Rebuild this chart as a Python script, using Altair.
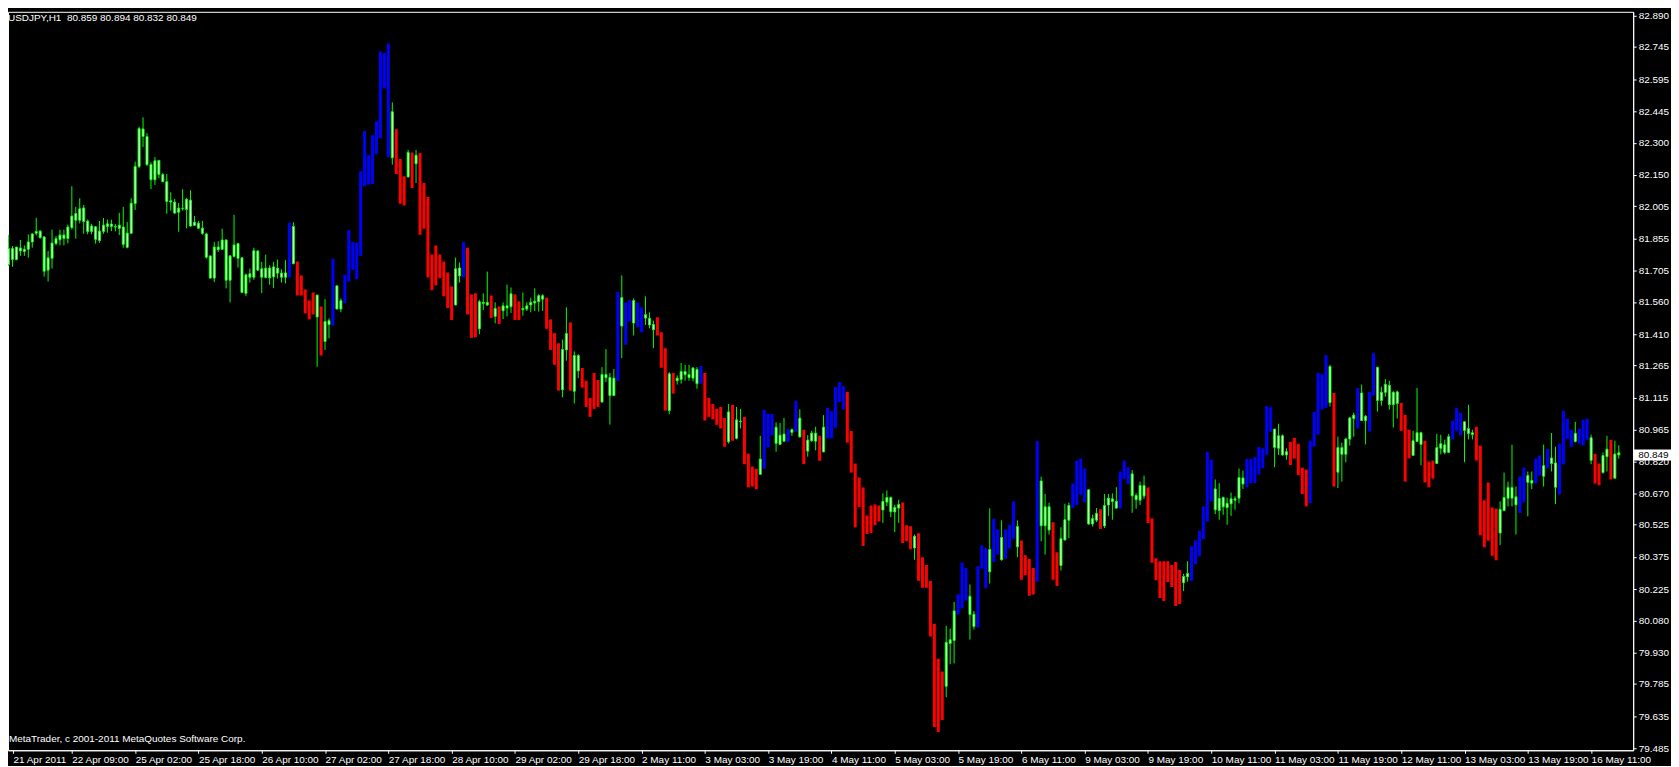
import json
import altair as alt
import pandas as pd

# ---------------- data ----------------
SYMBOL = "USDJPY,H1"
LAST_OHLC = ["80.859", "80.894", "80.832", "80.849"]
LAST_PRICE = 80.849
COPYRIGHT = "MetaTrader, c 2001-2011 MetaQuotes Software Corp."

# g = candle (lime), r = red bar, b = blue bar
KIND = list(
    "gggggggggg" "gggggggggg" "gggggggggg" "gggggggggg" "gggggggggg"
    "gggggggggg" "gggggggggg" "gbgrrrrrgr" "ggbggbbbbb" "bbbbbbbgrr"
    "rgrgrrrrrr" "rrrggbrrrg" "ggrgrgggrr" "ggggggrrrr" "ggrggrrrrr"
    "ggggbgbbgb" "bgggrrrgrg" "gggggbrrrr" "rrgrggrrrr" "gbbbgggbgb"
    "grgggrgbbb" "bbrrrrrrrr" "rgggggrrrg" "rrrrrrrggg" "bbbggbbbgb"
    "bgbbbgrrrr" "bgggrrgggb" "bbbgggrggg" "gbbbggggrr" "rrrrrrrggb"
    "bbbbbggggg" "gggbbbbbbb" "ggggrrrrrb" "bbbbgrgggg" "gbggbbgggg"
    "ggrrrgggrr" "rggggbbbgg" "grrrrrrggg" "ggbbggbbgb" "ggbbbbgbbb"
    "grrggrgg"
)

HIGH = [
    81.872, 81.820, 81.815, 81.848, 81.823, 81.874, 81.879, 81.951, 81.894, 81.866,
    81.797, 81.896, 81.866, 81.896, 81.896, 81.920, 82.098, 82.002, 82.042, 82.011,
    81.943, 81.923, 81.913, 81.936, 81.950, 81.943, 81.942, 81.922, 81.974, 82.002,
    81.931, 82.042, 82.212, 82.375, 82.418, 82.344, 82.209, 82.233, 82.218, 82.159,
    82.155, 82.070, 82.039, 82.020, 82.084, 82.044, 82.079, 81.959, 81.936, 81.937,
    81.882, 81.774, 81.839, 81.842, 81.900, 81.851, 81.778, 81.965, 81.835, 81.768,
    81.692, 81.715, 81.812, 81.800, 81.746, 81.780, 81.731, 81.746, 81.757, 81.712,
    81.754, 81.928, 81.931, 81.748, 81.683, 81.618, 81.567, 81.604, 81.593, 81.539,
    81.573, 81.484, 81.761, 81.635, 81.576, 81.686, 81.894, 81.839, 81.835, 82.167,
    82.354, 82.242, 82.335, 82.400, 82.724, 82.717, 82.761, 82.488, 82.363, 82.224,
    82.144, 82.267, 82.255, 82.267, 82.252, 82.113, 82.048, 81.780, 81.822, 81.780,
    81.748, 81.697, 81.632, 81.766, 81.743, 81.839, 81.812, 81.595, 81.600, 81.570,
    81.600, 81.701, 81.590, 81.558, 81.539, 81.558, 81.641, 81.627, 81.595, 81.563,
    81.604, 81.558, 81.580, 81.623, 81.596, 81.596, 81.580, 81.479, 81.415, 81.368,
    81.385, 81.535, 81.465, 81.330, 81.317, 81.253, 81.194, 81.114, 81.230, 81.197,
    81.257, 81.341, 81.230, 81.248, 81.607, 81.683, 81.558, 81.569, 81.576, 81.558,
    81.535, 81.586, 81.512, 81.473, 81.489, 81.419, 81.345, 81.234, 81.230, 81.219,
    81.276, 81.268, 81.268, 81.257, 81.257, 81.262, 81.230, 81.114, 81.086, 81.063,
    81.072, 81.021, 81.086, 81.082, 81.072, 81.063, 81.026, 80.855, 80.795, 80.785,
    80.938, 81.058, 81.040, 81.040, 81.000, 80.998, 81.021, 80.969, 80.972, 81.100,
    81.061, 80.966, 80.941, 80.961, 80.980, 80.938, 81.034, 81.068, 81.052, 81.165,
    81.188, 81.169, 81.142, 80.961, 80.809, 80.744, 80.698, 80.568, 80.614, 80.619,
    80.614, 80.670, 80.684, 80.656, 80.617, 80.641, 80.628, 80.522, 80.517, 80.479,
    80.485, 80.374, 80.337, 80.263, 80.064, 79.902, 79.842, 80.055, 80.042, 80.166,
    80.201, 80.349, 80.323, 80.247, 80.124, 80.332, 80.429, 80.415, 80.601, 80.553,
    80.503, 80.545, 80.503, 80.525, 80.633, 80.545, 80.451, 80.383, 80.365, 80.323,
    80.913, 80.748, 80.668, 80.627, 80.536, 80.397, 80.513, 80.622, 80.628, 80.716,
    80.823, 80.832, 80.786, 80.687, 80.571, 80.602, 80.596, 80.667, 80.667, 80.670,
    80.699, 80.772, 80.823, 80.792, 80.779, 80.671, 80.725, 80.753, 80.698, 80.554,
    80.369, 80.355, 80.355, 80.355, 80.337, 80.351, 80.314, 80.297, 80.355, 80.425,
    80.452, 80.497, 80.610, 80.864, 80.827, 80.735, 80.718, 80.656, 80.651, 80.674,
    80.656, 80.786, 80.776, 80.830, 80.830, 80.838, 80.886, 80.880, 81.077, 81.071,
    80.969, 80.994, 80.944, 80.880, 80.910, 80.929, 80.901, 80.790, 80.781, 80.915,
    81.049, 81.230, 81.225, 81.313, 81.267, 81.137, 80.934, 80.906, 80.929, 81.026,
    81.045, 81.160, 81.176, 81.034, 81.142, 81.322, 81.260, 81.166, 81.202, 81.194,
    81.145, 81.148, 81.091, 81.035, 80.966, 80.961, 81.160, 80.957, 80.915, 80.818,
    80.823, 80.947, 80.943, 80.920, 80.947, 81.008, 81.068, 81.045, 81.003, 81.082,
    80.966, 80.980, 80.892, 80.638, 80.721, 80.605, 80.600, 80.633, 80.767, 80.725,
    80.897, 80.702, 80.749, 80.790, 80.772, 80.772, 80.832, 80.846, 80.897, 80.878,
    80.951, 80.887, 80.901, 81.054, 81.017, 80.966, 81.003, 80.971, 81.012, 81.017,
    80.943, 80.855, 80.809, 80.860, 80.938, 80.920, 80.915, 80.894,
]

LOW = [
    81.728, 81.724, 81.754, 81.774, 81.774, 81.766, 81.812, 81.869, 81.854, 81.678,
    81.655, 81.715, 81.823, 81.823, 81.823, 81.832, 81.897, 81.854, 81.925, 81.877,
    81.874, 81.874, 81.831, 81.835, 81.877, 81.882, 81.889, 81.888, 81.871, 81.812,
    81.809, 81.879, 81.988, 82.182, 82.280, 82.193, 82.085, 82.104, 82.135, 82.116,
    81.970, 81.985, 81.970, 81.886, 81.985, 81.902, 81.909, 81.913, 81.900, 81.872,
    81.761, 81.669, 81.652, 81.792, 81.802, 81.623, 81.558, 81.766, 81.720, 81.601,
    81.587, 81.650, 81.663, 81.704, 81.601, 81.669, 81.640, 81.624, 81.669, 81.650,
    81.647, 81.674, 81.735, 81.590, 81.590, 81.507, 81.479, 81.502, 81.259, 81.311,
    81.337, 81.391, 81.450, 81.527, 81.512, 81.555, 81.655, 81.709, 81.666, 81.774,
    82.098, 82.105, 82.108, 82.247, 82.321, 82.552, 82.233, 82.198, 82.155, 82.016,
    82.008, 82.138, 82.090, 82.113, 81.872, 81.900, 81.674, 81.615, 81.637, 81.670,
    81.586, 81.532, 81.476, 81.546, 81.650, 81.674, 81.502, 81.393, 81.396, 81.410,
    81.522, 81.542, 81.485, 81.461, 81.458, 81.481, 81.493, 81.509, 81.476, 81.476,
    81.496, 81.518, 81.512, 81.518, 81.515, 81.518, 81.435, 81.337, 81.268, 81.148,
    81.117, 81.287, 81.148, 81.088, 81.206, 81.162, 81.072, 81.026, 81.063, 81.072,
    81.091, 81.188, 80.990, 81.125, 81.193, 81.299, 81.361, 81.469, 81.404, 81.442,
    81.419, 81.453, 81.438, 81.345, 81.404, 81.254, 81.055, 81.038, 81.134, 81.176,
    81.180, 81.194, 81.194, 81.191, 81.157, 81.180, 81.009, 81.026, 81.014, 80.989,
    80.972, 80.887, 80.902, 80.915, 80.921, 80.972, 80.806, 80.698, 80.702, 80.690,
    80.759, 80.785, 80.884, 80.940, 80.864, 80.898, 80.910, 80.910, 80.938, 80.957,
    80.929, 80.806, 80.841, 80.910, 80.870, 80.822, 80.863, 80.926, 80.926, 80.975,
    81.095, 81.060, 80.906, 80.767, 80.513, 80.607, 80.426, 80.482, 80.486, 80.523,
    80.540, 80.533, 80.611, 80.560, 80.491, 80.533, 80.440, 80.448, 80.411, 80.362,
    80.264, 80.232, 80.232, 80.005, 79.584, 79.561, 79.617, 79.723, 79.876, 79.880,
    80.107, 80.135, 80.172, 79.991, 80.038, 80.047, 80.321, 80.229, 80.251, 80.352,
    80.386, 80.358, 80.366, 80.414, 80.460, 80.374, 80.269, 80.290, 80.195, 80.200,
    80.260, 80.448, 80.386, 80.479, 80.269, 80.240, 80.312, 80.451, 80.463, 80.602,
    80.617, 80.664, 80.628, 80.525, 80.516, 80.537, 80.505, 80.509, 80.566, 80.548,
    80.599, 80.601, 80.738, 80.713, 80.580, 80.599, 80.617, 80.645, 80.533, 80.348,
    80.267, 80.184, 80.170, 80.258, 80.235, 80.147, 80.156, 80.216, 80.260, 80.264,
    80.341, 80.378, 80.457, 80.540, 80.633, 80.574, 80.548, 80.571, 80.525, 80.566,
    80.594, 80.624, 80.691, 80.699, 80.718, 80.718, 80.758, 80.787, 80.849, 80.957,
    80.792, 80.849, 80.846, 80.827, 80.802, 80.832, 80.755, 80.667, 80.610, 80.625,
    80.887, 80.943, 81.060, 81.068, 81.074, 80.702, 80.695, 80.725, 80.815, 80.892,
    80.934, 80.972, 81.009, 80.898, 80.958, 81.125, 81.051, 81.078, 81.120, 81.060,
    80.977, 81.018, 80.961, 80.725, 80.833, 80.844, 80.910, 80.801, 80.721, 80.698,
    80.739, 80.809, 80.852, 80.852, 80.861, 80.921, 80.961, 80.940, 80.815, 80.921,
    80.921, 80.823, 80.476, 80.420, 80.450, 80.380, 80.360, 80.430, 80.587, 80.610,
    80.610, 80.479, 80.579, 80.628, 80.564, 80.690, 80.716, 80.753, 80.702, 80.786,
    80.772, 80.621, 80.665, 80.804, 80.924, 80.887, 80.907, 80.901, 80.893, 80.920,
    80.806, 80.716, 80.708, 80.762, 80.772, 80.735, 80.741, 80.832,
]

_ = None
OPEN = [
    81.734, 81.758, 81.757, 81.797, 81.795, 81.805, 81.839, 81.879, 81.859, 81.703,
    81.708, 81.763, 81.832, 81.849, 81.855, 81.855, 81.906, 81.940, 81.940, 81.934,
    81.888, 81.888, 81.851, 81.846, 81.888, 81.911, 81.911, 81.908, 81.902, 81.828,
    81.814, 81.879, 82.017, 82.189, 82.329, 82.198, 82.128, 82.128, 82.153, 82.119,
    82.027, 82.024, 81.973, 81.977, 81.994, 81.990, 81.913, 81.916, 81.903, 81.879,
    81.768, 81.671, 81.671, 81.803, 81.805, 81.661, 81.661, 81.772, 81.763, 81.604,
    81.600, 81.675, 81.675, 81.708, 81.675, 81.674, 81.672, 81.677, 81.694, 81.675,
    81.675, _, 81.738, _, _, _, _, _, 81.490, _,
    81.376, 81.455, _, 81.527, 81.527, _, _, _, _, _,
    _, _, _, _, _, _, _, 82.230, _, _,
    _, 82.141, _, 82.202, _, _, _, _, _, _,
    _, _, _, 81.546, 81.681, _, _, _, _, 81.435,
    81.553, 81.546, _, 81.493, _, 81.519, 81.532, 81.538, _, _,
    81.524, 81.527, 81.546, 81.555, 81.561, 81.573, _, _, _, _,
    81.152, 81.337, _, 81.145, 81.240, _, _, _, _, _,
    81.095, 81.208, 81.125, 81.125, _, 81.448, _, _, 81.462, _,
    _, 81.485, 81.453, 81.431, _, _, _, 81.055, _, 81.194,
    81.200, 81.222, 81.209, 81.206, 81.180, _, _, _, _, _,
    _, _, 80.910, _, 80.926, 81.003, _, _, _, _,
    80.759, _, _, _, 80.903, 80.898, 80.913, _, 80.954, _,
    80.933, _, 80.867, 80.915, 80.913, _, 80.863, _, _, _,
    _, _, _, _, _, _, _, _, _, _,
    _, 80.593, 80.630, 80.585, 80.584, 80.602, _, _, _, 80.417,
    _, _, _, _, _, _, _, 79.774, 79.973, 79.987,
    _, _, _, 80.107, 80.052, _, _, _, 80.306, _,
    _, 80.362, _, _, _, 80.422, _, _, _, _,
    _, 80.520, 80.520, 80.500, _, _, 80.335, 80.454, 80.546, _,
    _, _, _, 80.528, 80.528, 80.546, _, 80.519, 80.616, 80.633,
    80.602, _, _, _, 80.659, 80.641, 80.639, 80.658, _, _,
    _, _, _, _, _, _, _, 80.255, 80.283, _,
    _, _, _, _, _, 80.594, 80.591, 80.608, 80.604, 80.622,
    80.639, 80.648, 80.714, _, _, _, _, _, _, _,
    80.884, 80.880, 80.849, 80.849, _, _, _, _, _, _,
    _, _, _, _, 81.092, _, 80.769, 80.852, 80.852, 80.923,
    81.018, _, 81.009, 81.009, _, _, 81.102, 81.102, 81.140, 81.083,
    81.083, 81.088, _, _, _, 80.847, 80.912, 80.898, _, _,
    _, 80.809, 80.880, 80.861, 80.861, _, _, _, 80.963, 80.949,
    80.944, _, _, _, _, _, _, 80.486, 80.591, 80.648,
    80.648, 80.617, _, _, 80.722, 80.718, _, _, 80.750, _,
    80.809, 80.699, _, _, _, _, 80.912, _, _, _,
    80.824, _, _, 80.767, 80.841, _, 80.741, 80.859,
]

CLOSE = [
    81.808, 81.808, 81.815, 81.811, 81.805, 81.839, 81.876, 81.888, 81.889, 81.862,
    81.765, 81.834, 81.854, 81.871, 81.871, 81.908, 81.959, 81.971, 81.993, 81.997,
    81.936, 81.913, 81.909, 81.889, 81.917, 81.923, 81.922, 81.911, 81.917, 81.908,
    81.880, 82.019, 82.190, 82.366, 82.364, 82.329, 82.199, 82.216, 82.218, 82.152,
    82.119, 82.030, 82.024, 81.996, 81.996, 82.037, 82.033, 81.931, 81.926, 81.903,
    81.876, 81.774, 81.815, 81.815, 81.848, 81.848, 81.774, 81.825, 81.831, 81.765,
    81.686, 81.691, 81.798, 81.797, 81.714, 81.717, 81.718, 81.723, 81.717, 81.694,
    81.695, _, 81.911, _, _, _, _, _, 81.592, _,
    81.469, 81.473, _, 81.635, 81.566, _, _, _, _, _,
    _, _, _, _, _, _, _, 82.444, _, _,
    _, 82.255, _, 82.242, _, _, _, _, _, _,
    _, _, _, 81.714, 81.718, _, _, _, _, 81.561,
    81.558, 81.558, _, 81.530, _, 81.542, 81.542, 81.598, _, _,
    81.530, 81.542, 81.558, 81.563, 81.589, 81.589, _, _, _, _,
    81.339, 81.413, _, 81.311, 81.311, _, _, _, _, _,
    81.223, 81.223, 81.209, 81.206, _, 81.580, _, _, 81.566, _,
    _, 81.501, 81.484, 81.455, _, _, _, 81.226, _, 81.206,
    81.237, 81.237, 81.223, 81.253, 81.246, _, _, _, _, _,
    _, _, 81.049, _, 81.012, 81.006, _, _, _, _,
    80.830, _, _, _, 80.978, 80.941, 80.946, _, 80.966, _,
    81.020, _, 80.918, 80.950, 80.950, _, 80.978, _, _, _,
    _, _, _, _, _, _, _, _, _, _,
    _, 80.633, 80.651, 80.651, 80.605, 80.619, _, _, _, 80.471,
    _, _, _, _, _, _, _, 79.978, 79.990, 80.124,
    _, _, _, 80.192, 80.109, _, _, _, 80.409, _,
    _, 80.465, _, _, _, 80.516, _, _, _, _,
    _, 80.728, 80.608, 80.608, _, _, 80.460, 80.548, 80.614, _,
    _, _, _, 80.687, 80.553, 80.577, _, 80.614, 80.648, 80.645,
    80.633, _, _, _, 80.761, 80.661, 80.707, 80.707, _, _,
    _, _, _, _, _, _, _, 80.284, 80.298, _,
    _, _, _, _, _, 80.691, 80.647, 80.651, 80.624, 80.645,
    80.645, 80.744, 80.742, _, _, _, _, _, _, _,
    80.969, 80.938, 80.938, 80.864, _, _, _, _, _, _,
    _, _, _, _, 81.260, _, 80.883, 80.883, 80.923, 81.021,
    81.034, _, 81.137, 81.029, _, _, 81.256, 81.140, 81.177, 81.172,
    81.140, 81.142, _, _, _, 80.915, 80.952, 80.952, _, _,
    _, 80.883, 80.901, 80.896, 80.934, _, _, _, 81.003, 80.971,
    80.952, _, _, _, _, _, _, 80.596, 80.651, 80.698,
    80.698, 80.654, _, _, 80.753, 80.730, _, _, 80.799, _,
    80.835, 80.812, _, _, _, _, 80.949, _, _, _,
    80.929, _, _, 80.846, 80.876, _, 80.853, 80.849,
]

X_LABELS = [
    "21 Apr 2011", "22 Apr 09:00", "25 Apr 02:00", "25 Apr 18:00", "26 Apr 10:00",
    "27 Apr 02:00", "27 Apr 18:00", "28 Apr 10:00", "29 Apr 02:00", "29 Apr 18:00",
    "2 May 11:00", "3 May 03:00", "3 May 19:00", "4 May 11:00", "5 May 03:00",
    "5 May 19:00", "6 May 11:00", "9 May 03:00", "9 May 19:00", "10 May 11:00",
    "11 May 03:00", "11 May 19:00", "12 May 11:00", "13 May 03:00", "13 May 19:00",
    "16 May 11:00",
]
BARS_PER_LABEL = 16

Y_TICKS = [
    82.890, 82.745, 82.595, 82.445, 82.300, 82.150, 82.005, 81.855, 81.705, 81.560,
    81.410, 81.265, 81.115, 80.965, 80.820, 80.670, 80.525, 80.375, 80.225, 80.080,
    79.930, 79.785, 79.635, 79.485,
]

# ---------------- build ----------------
N = len(KIND)
assert len(HIGH) == N and len(LOW) == N and len(OPEN) == N and len(CLOSE) == N

df = pd.DataFrame({"bar": list(range(N)), "kind": KIND, "high": HIGH,
                   "low": LOW, "open": OPEN, "close": CLOSE})

W, H = 1633, 742
X0 = 1.125
FONT = "Liberation Sans"
LIME, WHITE = "#00ff00", "#ffffff"

xscale = alt.Scale(domain=[X0, X0 + W / 4], nice=False, zero=False)
yscale = alt.Scale(domain=[79.4765, 82.9085], nice=False, zero=False)

xaxis = alt.Axis(
    values=[X0] + [BARS_PER_LABEL * k for k in range(1, len(X_LABELS))],
    labelExpr=f"{json.dumps(X_LABELS)}[round(datum.value / {BARS_PER_LABEL})]",
    labelAlign="left", labelBaseline="top", labelPadding=1,
    tickSize=3, labelOverlap=False, labelFlush=False, grid=False,
)
yaxis = alt.Axis(
    orient="right", values=Y_TICKS, format=".3f", tickSize=3, labelPadding=2,
    labelOverlap=False, labelFlush=False, grid=False,
)

X = alt.X("bar:Q", scale=xscale, axis=xaxis, title=None)


def Y(field):
    return alt.Y(f"{field}:Q", scale=yscale, axis=yaxis, title=None)


base = alt.Chart(df)

colored = base.transform_filter("datum.kind != 'g'").mark_bar(width=3, clip=True).encode(
    x=X, y=Y("low"), y2="high:Q",
    color=alt.Color("kind:N", scale=alt.Scale(domain=["r", "b"], range=["#ff0000", "#0000ff"]),
                    legend=None),
)

wicks = base.transform_filter("datum.kind == 'g'").mark_rule(
    color=LIME, strokeWidth=1, clip=True
).encode(x=X, y=Y("low"), y2="high:Q")

bodies = base.transform_filter("datum.kind == 'g'").mark_bar(
    width=2, fill=WHITE, stroke=LIME, strokeWidth=1, clip=True
).encode(x=X, y=Y("open"), y2="close:Q")

title_df = pd.DataFrame({"t": [SYMBOL + "\u00a0 " + " ".join(LAST_OHLC)]})
title = alt.Chart(title_df).mark_text(
    align="left", baseline="top", color=WHITE, font=FONT, fontSize=10
).encode(x=alt.value(0), y=alt.value(1), text="t:N")

copy_df = pd.DataFrame({"t": [COPYRIGHT]})
copyright_txt = alt.Chart(copy_df).mark_text(
    align="left", baseline="middle", color=WHITE, font=FONT, fontSize=10
).encode(x=alt.value(1), y=alt.value(H - 11), text="t:N")

last_df = pd.DataFrame({"p": [LAST_PRICE], "label": [f"{LAST_PRICE:.3f}"]})
last_box = alt.Chart(last_df).mark_tick(
    orient="horizontal", thickness=11, size=38, color=WHITE, opacity=1
).encode(x=alt.value(W + 19), y=Y("p"))
last_txt = alt.Chart(last_df).mark_text(
    align="left", baseline="middle", color="#000000", font=FONT, fontSize=10
).encode(x=alt.value(W + 5), y=Y("p"), text="label:N")

chart = alt.layer(
    colored, wicks, bodies, title, copyright_txt, last_box, last_txt
).properties(
    width=W, height=H, background="#000000", padding=0
).configure_view(
    stroke=WHITE, strokeWidth=1
).configure_axis(
    domainColor=WHITE, tickColor=WHITE, labelColor=WHITE, labelFont=FONT,
    labelFontSize=10, domainWidth=1, tickWidth=1,
)

chart.save("out.html", embed_options={"renderer": "svg", "actions": False})
